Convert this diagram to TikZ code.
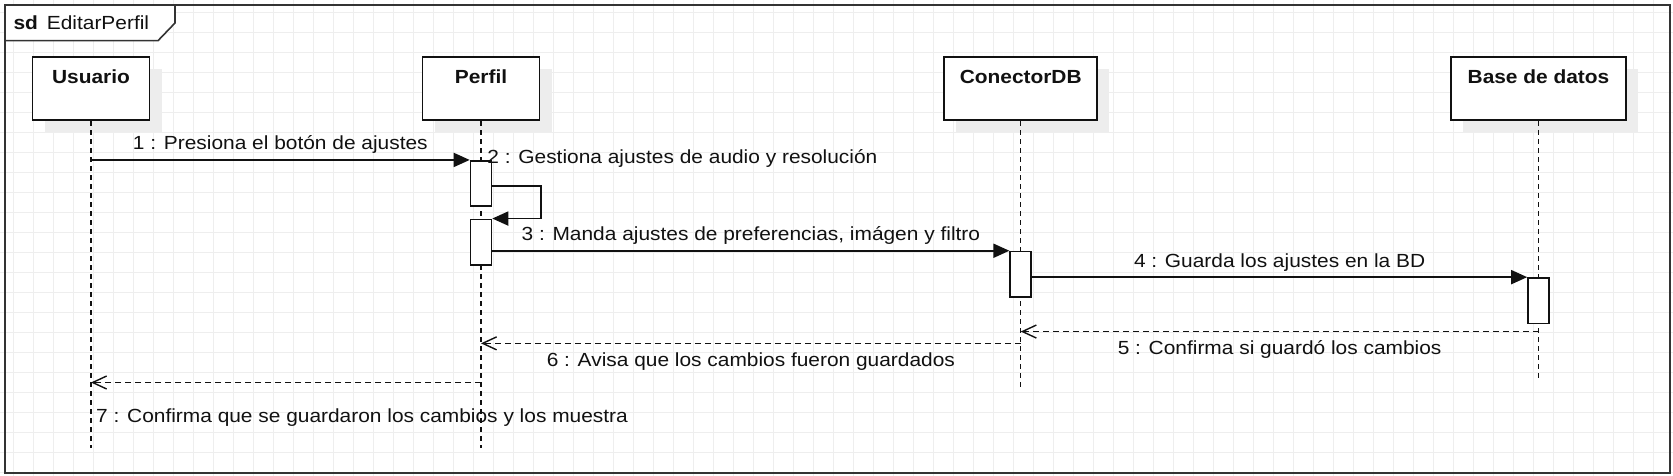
\documentclass[tikz,border=0pt]{standalone}
\usepackage{fontspec}
\setmainfont[FakeStretch=1.1]{Liberation Sans}
\usetikzlibrary{arrows.meta,calc}
\definecolor{gridc}{HTML}{EEEEEE}
\definecolor{ink}{HTML}{111111}
\definecolor{framec}{HTML}{333333}
\begin{document}
\begin{tikzpicture}[x=1pt,y=-1pt,
  every node/.style={font=\fontsize{19}{22}\selectfont, text=ink},
  lbox/.style={draw=ink, line width=1.8pt, fill=white, minimum height=63.5pt, inner sep=0pt},
  shadowbox/.style={fill=black!7, draw=none, minimum height=63.5pt, inner sep=0pt},
  actbar/.style={draw=ink, line width=1.6pt, fill=white, minimum width=21pt, minimum height=45.5pt, inner sep=0pt},
  life/.style={draw=ink, line width=1.4pt, dash pattern=on 5pt off 4pt},
  msg/.style={draw=ink, line width=1.8pt, -{Triangle[length=16pt,width=14pt]}},
  ret/.style={draw=ink, line width=1.4pt, dash pattern=on 6pt off 4pt, -{Straight Barb[length=14pt,width=13pt,line width=1.4pt]}},
  mlabel/.style={anchor=base, inner sep=0pt},
  boxlabel/.style={anchor=base, inner sep=0pt, yshift=-27.35pt, font=\bfseries\fontsize{19}{22}\selectfont},
]
\useasboundingbox (0,0) rectangle (1673,476);
% grid
\foreach \i in {0,...,83} \draw[gridc, line width=1pt] (13.3+20*\i,0) -- (13.3+20*\i,476);
\foreach \j in {0,...,23} \draw[gridc, line width=1pt] (0,12.3+20*\j) -- (1673,12.3+20*\j);
% frame
\draw[framec, line width=2pt] (5,5) rectangle (1670,473);
\draw[framec, line width=1.6pt, fill=white] (5,5) -- (175,5) -- (175,23) -- (158,40.7) -- (5,40.7) -- cycle;
\node[anchor=base west, inner sep=0pt] (sd) at (13.4,30) {\textbf{sd}};
\node[anchor=base west, inner sep=0pt] (title) at (46.7,30) {EditarPerfil};
% lifeline heads
\node[shadowbox, minimum width=117pt] (usrS) at (103,100.4) {};
\node[shadowbox, minimum width=117pt] (perS) at (493,100.4) {};
\node[shadowbox, minimum width=153pt] (conS) at (1032.7,100.4) {};
\node[shadowbox, minimum width=175pt] (dbS) at (1550.5,100.4) {};
\node[lbox, minimum width=117pt, label={[boxlabel]north:Usuario}] (usr) at (91,88.4) {};
\node[lbox, minimum width=117pt, label={[boxlabel]north:Perfil}] (per) at (481,88.4) {};
\node[lbox, minimum width=153pt, label={[boxlabel]north:ConectorDB}] (con) at (1020.7,88.4) {};
\node[lbox, minimum width=175pt, label={[boxlabel]north:Base de datos}] (dbs) at (1538.5,88.4) {};
% lifelines
\coordinate (usrEnd) at (91,448);
\coordinate (perEnd) at (481,448);
\coordinate (conEnd) at (1020.7,390);
\coordinate (dbsEnd) at (1538.5,380);
\draw[life] (usr.south) -- (usrEnd);
\draw[life] (per.south) -- (perEnd);
\draw[life] (con.south) -- (conEnd);
\draw[life] (dbs.south) -- (dbsEnd);
% activation bars
\node[actbar] (b1) at (481,183.5) {};
\node[actbar] (b2) at (481,242.1) {};
\node[actbar] (cb) at (1020.7,274.3) {};
\node[actbar] (db) at (1538.5,300.7) {};
% messages
\draw[msg] (usr.south |- b1.north) -- node[mlabel, yshift=10.3pt] (l1) {1 : Presiona el botón de ajustes} (b1.north west);
\draw[msg] ($(b1.north east)+(0,25.7)$) -- ++(49,0) |- (b2.north east);
\node[anchor=base west, inner sep=0pt] (l2) at ($(b1.north west)+(17.5,3.25)$) {2 : Gestiona ajustes de audio y resolución};
\draw[msg] (b2.east |- cb.north) -- node[mlabel, yshift=10pt] (l3) {3 : Manda ajustes de preferencias, imágen y filtro} (cb.north west);
\draw[msg] (cb.east |- db.north) -- node[mlabel, yshift=9.4pt] (l4) {4 : Guarda los ajustes en la BD} (db.north west);
\coordinate (r5) at ($(db.south)+(0,7.3)$);
\draw[ret] (r5) -- node[mlabel, yshift=-23.3pt] (l5) {5 : Confirma si guardó los cambios} (cb.south |- r5);
\coordinate (r6) at ($(cb.south)+(0,45.5)$);
\draw[ret] (r6) -- node[mlabel, yshift=-22.7pt] (l6) {6 : Avisa que los cambios fueron guardados} (b2.south |- r6);
\coordinate (r7) at ($(b2.south)+(0,116.85)$);
\draw[ret] (r7) -- (usr.south |- r7);
\node[anchor=base west, inner sep=0pt] (l7) at ($(usr.south |- r7)+(5,40.3)$) {7 : Confirma que se guardaron los cambios y los muestra};
\end{tikzpicture}
\end{document}
